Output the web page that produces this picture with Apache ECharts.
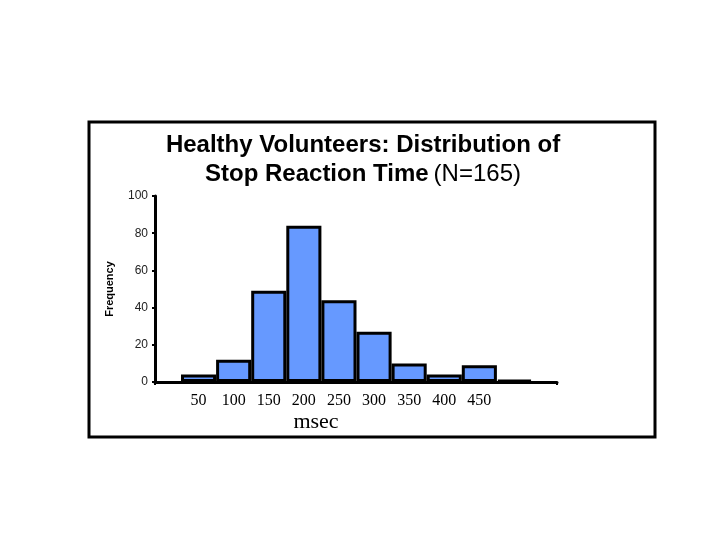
<!DOCTYPE html>
<html>
<head>
<meta charset="utf-8">
<script src="https://cdn.jsdelivr.net/npm/echarts@6/dist/echarts.min.js"></script>
<style>
  html, body { margin: 0; padding: 0; background: #fff; }
  #chart { width: 720px; height: 540px; }
</style>
</head>
<body>
<div id="chart"></div>
<script>
// bins of stop reaction time (msec), label under each bar
var binLabels = ['50', '100', '150', '200', '250', '300', '350', '400', '450', '']
var frequency = [4, 12, 49, 84, 44, 27, 10, 4, 9, 1]
var yTicks = { min: 0, max: 100, step: 20 }

var chart = echarts.init(document.getElementById('chart'))

chart.setOption({
  backgroundColor: '#fff',
  animation: false,
  title: {
    left: 363,
    top: 131,
    padding: 0,
    textAlign: 'center',
    text: '{b|Healthy Volunteers: Distribution of}\n{b|Stop Reaction Time} {n|(N=165)}',
    textStyle: {
      rich: {
        b: { fontFamily: 'Liberation Sans, Arial', fontSize: 24, fontWeight: 'bold', color: '#000', lineHeight: 29 },
        n: { fontFamily: 'Liberation Sans, Arial', fontSize: 24, fontWeight: 'normal', color: '#000', lineHeight: 29 }
      }
    }
  },
  graphic: [
    {
      type: 'rect',
      shape: { x: 89, y: 122, width: 566, height: 315 },
      style: { fill: 'none', stroke: '#000', lineWidth: 3 },
      silent: true
    },
    {
      type: 'text',
      x: 316, y: 422,
      style: {
        text: 'msec', fill: '#000', align: 'center', verticalAlign: 'middle',
        font: '22px "Liberation Serif", "Times New Roman", serif'
      }
    }
  ],
  grid: [
    // full axis frame
    { left: 155, right: 163, top: 196, bottom: 158 },
    // bars sit inside with some space at both ends
    { left: 181, right: 188, top: 196, bottom: 158 }
  ],
  xAxis: [
    {
      gridIndex: 0, type: 'value', min: 0, max: 1, interval: 1,
      axisLine: { lineStyle: { color: '#000', width: 3 } },
      axisTick: { show: true, length: 3, lineStyle: { color: '#000', width: 2 } },
      axisLabel: { show: false },
      splitLine: { show: false }
    },
    {
      gridIndex: 1, type: 'category', data: binLabels,
      axisLine: { show: false },
      axisTick: { show: false },
      axisLabel: {
        color: '#000', fontSize: 16, margin: 11, interval: 0,
        fontFamily: 'Liberation Serif, Times New Roman, serif'
      }
    }
  ],
  yAxis: [
    {
      gridIndex: 0, type: 'value', min: yTicks.min, max: yTicks.max, interval: yTicks.step,
      name: 'Frequency', nameLocation: 'middle', nameGap: 40,
      nameTextStyle: { fontFamily: 'Liberation Sans, Arial', fontSize: 11, fontWeight: 'bold', color: '#000' },
      axisLine: { show: true, lineStyle: { color: '#000', width: 3 } },
      axisTick: { show: true, length: 3, lineStyle: { color: '#000', width: 2 } },
      axisLabel: { color: '#222', fontSize: 12, margin: 7, fontFamily: 'Liberation Sans, Arial' },
      splitLine: { show: false }
    },
    {
      gridIndex: 1, type: 'value', min: yTicks.min, max: yTicks.max, show: false
    }
  ],
  series: [
    {
      type: 'bar',
      xAxisIndex: 1,
      yAxisIndex: 1,
      data: frequency,
      barCategoryGap: '0%',
      itemStyle: { color: '#6699ff', borderColor: '#000', borderWidth: 3 }
    }
  ]
})
</script>
</body>
</html>
